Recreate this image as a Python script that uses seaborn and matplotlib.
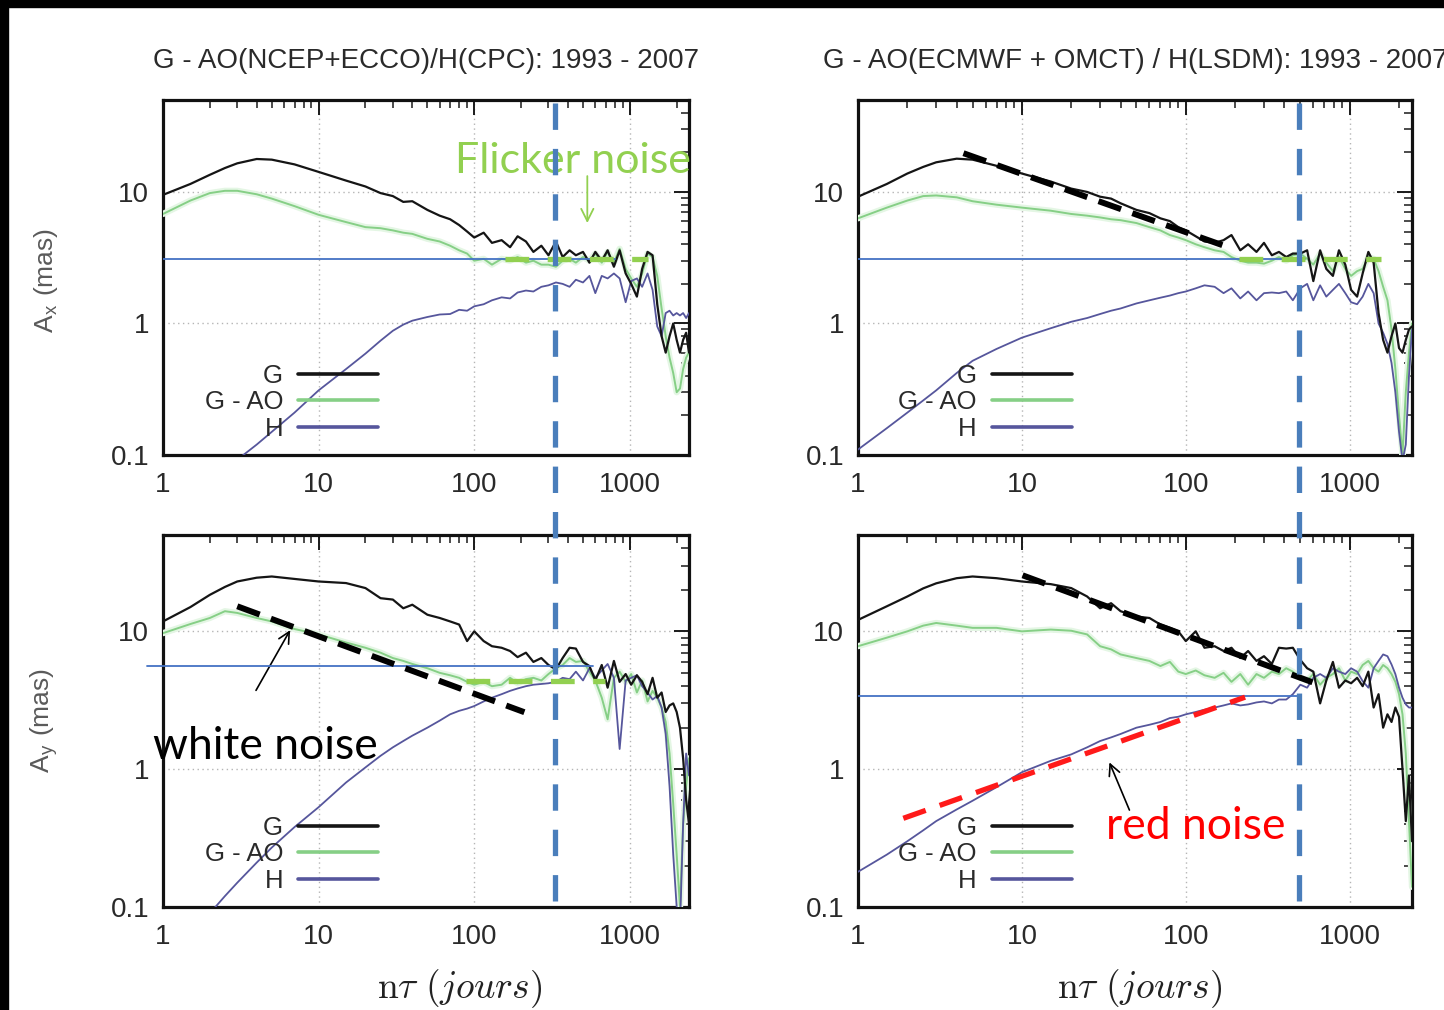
import matplotlib
matplotlib.use("Agg")
import matplotlib.pyplot as plt
import matplotlib.transforms as mtransforms
import matplotlib.patheffects as pe
from matplotlib.lines import Line2D
from matplotlib.patches import Rectangle
from matplotlib.ticker import LogLocator, NullFormatter, FixedLocator, FixedFormatter
import pandas as pd
import seaborn as sns

# ---------------------------------------------------------------- data
n_days = [1, 1.5, 2, 2.5, 3, 4, 5, 7,
          10, 15, 20, 25, 30, 35, 40,
          50, 60, 70, 80, 90,
          100, 115, 130, 150, 170, 190,
          215, 240, 270, 300, 335, 370,
          410, 450, 500, 550, 600, 660,
          720, 790, 860, 940, 1020, 1110,
          1200, 1300, 1400, 1500, 1600, 1700,
          1800, 1900, 2000, 2100, 2200, 2300, 2400]

# x component, NCEP+ECCO / CPC
ax_ncep_g = [9.5, 11.5, 13.5, 15.2, 16.5, 17.8, 17.6, 16.2,
             14.2, 12.2, 11.0, 9.8, 9.3, 8.4, 8.5,
             7.3, 6.6, 6.2, 5.6, 5.0,
             4.5, 4.9, 4.1, 4.3, 3.8, 4.6,
             4.2, 3.5, 3.9, 3.3, 4.2, 3.2,
             3.6, 3.3, 3.5, 2.9, 3.5, 3.0,
             3.6, 2.7, 3.6, 2.4, 2.0, 1.6,
             2.6, 3.5, 3.3, 1.4, 0.8, 0.6,
             0.8, 1.0, 0.75, 0.6, 0.75, 0.85, 0.6]
ax_ncep_gao = [6.8, 8.6, 9.8, 10.2, 10.2, 9.6, 8.9, 7.8,
               6.7, 5.9, 5.4, 5.3, 5.1, 4.9, 4.8,
               4.4, 4.2, 3.9, 3.6, 3.4,
               3.0, 3.1, 2.8, 3.1, 3.0, 3.2,
               2.9, 3.0, 2.8, 2.8, 2.7, 3.0,
               3.1, 2.9, 3.2, 3.0, 3.4, 2.9,
               3.5, 2.9, 3.7, 2.6, 2.2, 1.9,
               2.4, 3.4, 3.2, 2.3, 1.3, 0.8,
               0.55, 0.42, 0.3, 0.32, 0.45, 0.55, 0.6]
ax_ncep_h = [0.035, 0.05, 0.065, 0.08, 0.092, 0.12, 0.15, 0.21,
             0.31, 0.45, 0.59, 0.74, 0.88, 0.98, 1.05,
             1.12, 1.17, 1.18, 1.27, 1.25,
             1.35, 1.4, 1.5, 1.58, 1.55, 1.72,
             1.78, 1.75, 1.9, 1.95, 2.05, 2.0,
             1.9, 2.15, 2.05, 2.3, 1.7, 2.3,
             2.2, 2.4, 2.2, 1.45, 2.1, 2.2,
             1.9, 2.4, 1.8, 0.95, 0.8, 1.2,
             1.25, 1.15, 1.2, 1.15, 1.2, 1.1, 1.2]

# x component, ECMWF+OMCT / LSDM
ax_ecmwf_g = [9.2, 11.5, 13.8, 15.5, 16.8, 17.9, 17.6, 15.8,
              13.8, 12.0, 10.6, 10.0, 9.2, 8.9, 8.2,
              7.3, 6.9, 6.3, 6.0, 5.4,
              5.1, 4.6, 4.2, 4.1, 4.3, 4.7,
              3.6, 4.0, 3.5, 4.1, 3.3, 3.5,
              3.2, 3.4, 3.4, 3.6, 2.1, 3.6,
              2.6, 2.3, 3.6, 2.8, 1.8, 1.6,
              2.4, 3.5, 2.9, 1.2, 0.75, 0.6,
              0.8, 1.0, 0.65, 0.6, 0.75, 0.9, 0.95]
ax_ecmwf_gao = [6.3, 7.6, 8.6, 9.3, 9.4, 9.1, 8.5, 8.0,
                7.6, 7.2, 6.8, 6.6, 6.4, 6.2, 6.1,
                5.8, 5.4, 5.1, 4.7, 4.5,
                4.3, 4.0, 3.8, 3.6, 3.5, 3.2,
                3.0, 2.9, 2.9, 2.85, 3.0, 3.2,
                3.0, 3.3, 3.4, 3.1, 2.8, 3.4,
                2.9, 2.5, 3.2, 2.6, 2.3, 2.5,
                2.6, 3.2, 3.1, 2.5, 1.9, 1.5,
                0.9, 0.45, 0.2, 0.1, 0.3, 0.6, 1.0]
ax_ecmwf_h = [0.11, 0.16, 0.21, 0.26, 0.31, 0.42, 0.52, 0.64,
              0.78, 0.92, 1.03, 1.1, 1.18, 1.25, 1.3,
              1.42, 1.5, 1.57, 1.63, 1.7,
              1.75, 1.85, 1.95, 1.9, 1.7, 1.85,
              1.55, 1.75, 1.5, 1.7, 1.72, 1.7,
              1.75, 1.5, 1.85, 2.0, 1.5, 1.95,
              1.6, 1.8, 2.0, 1.7, 1.45, 1.4,
              1.6, 2.0, 1.7, 1.0, 0.85, 0.7,
              0.5, 0.3, 0.15, 0.09, 0.12, 0.4, 0.9]

# y component, NCEP+ECCO / CPC
ay_ncep_g = [11.8, 15.0, 18.4, 21.0, 23.0, 24.5, 25.0, 24.0,
             23.0, 22.4, 20.6, 17.4, 17.0, 14.7, 15.6,
             13.2, 12.5, 11.8, 11.2, 8.5,
             10.0, 8.5, 7.8, 7.6, 7.2, 6.5,
             7.0, 6.0, 6.4, 5.7, 5.3, 6.4,
             7.6, 7.5, 6.0, 5.6, 4.4, 5.7,
             3.9, 6.1, 4.3, 4.9, 4.1, 4.8,
             4.3, 3.5, 4.6, 3.3, 3.6, 2.6,
             2.9, 3.0, 2.6, 2.0, 1.2, 0.6, 0.4]
ay_ncep_gao = [9.7, 11.3, 12.5, 14.0, 13.6, 12.5, 11.8, 10.4,
               9.5, 8.3, 7.6, 7.0, 6.4, 6.1, 5.8,
               5.4, 5.0, 4.8, 4.6, 4.3,
               4.1, 4.3, 4.0, 4.1, 4.6, 4.2,
               4.5, 4.6, 4.4, 4.9, 5.4, 5.7,
               6.4, 6.0, 6.1, 5.1, 4.4, 3.3,
               2.3, 4.6, 5.1, 4.3, 4.9, 3.6,
               4.4, 3.1, 3.7, 3.3, 2.8, 2.2,
               1.3, 0.56, 0.24, 0.1, 0.4, 0.75, 1.2]
ay_ncep_h = [0.045, 0.068, 0.09, 0.12, 0.15, 0.21, 0.27, 0.38,
             0.53, 0.8, 1.03, 1.25, 1.44, 1.6, 1.75,
             2.0, 2.25, 2.5, 2.65, 2.75,
             2.87, 3.1, 3.3, 3.5, 3.7, 3.85,
             4.0, 4.1, 4.15, 4.2, 4.3, 4.6,
             4.5, 5.1, 4.4, 5.4, 4.6, 5.2,
             5.8, 4.6, 1.4, 4.4, 4.6, 4.8,
             4.0, 3.6, 3.2, 3.4, 2.8, 1.8,
             0.75, 0.24, 0.1, 0.07, 0.4, 1.3, 0.9]

# y component, ECMWF+OMCT / LSDM
ay_ecmwf_g = [12.1, 15.2, 17.9, 20.5, 22.3, 24.3, 25.0, 24.3,
              23.0, 22.0, 20.6, 17.9, 14.7, 16.0, 14.0,
              12.8, 12.5, 11.2, 10.6, 10.0,
              8.5, 10.0, 7.6, 7.8, 7.2, 7.6,
              6.4, 7.2, 6.1, 6.6, 5.8, 7.6,
              7.5, 7.6, 6.2, 5.4, 5.1, 3.0,
              4.4, 6.0, 3.9, 4.4, 4.2, 4.6,
              4.0, 5.1, 2.8, 3.5, 2.0, 2.5,
              2.2, 2.8, 2.4, 1.0, 0.42, 0.9, 0.3]
ay_ecmwf_gao = [7.8, 9.0, 10.0, 11.0, 11.5, 11.0, 10.6, 10.6,
                10.0, 10.3, 10.1, 9.5, 7.8, 7.4, 6.8,
                6.4, 6.1, 5.6, 6.0, 5.1,
                4.9, 5.2, 4.8, 4.6, 5.0, 4.3,
                4.9, 4.1, 4.9, 4.6, 5.1, 4.9,
                5.4, 5.1, 4.6, 4.4, 4.9, 4.1,
                4.6, 4.9, 5.4, 4.4, 5.1, 4.9,
                5.7, 6.1, 5.4, 5.1, 5.7, 5.4,
                4.9, 4.3, 3.5, 2.5, 1.3, 0.42, 0.14]
ay_ecmwf_h = [0.18, 0.24, 0.3, 0.36, 0.42, 0.51, 0.59, 0.74,
              0.95, 1.15, 1.28, 1.44, 1.6, 1.7, 1.8,
              2.0, 2.1, 2.2, 2.35, 2.4,
              2.5, 2.6, 2.7, 2.8, 2.9, 3.0,
              2.9, 2.95, 3.05, 3.1, 3.0, 3.2,
              3.2, 3.5, 4.1, 3.9, 4.6, 4.9,
              4.6, 5.4, 5.1, 4.9, 5.4, 5.1,
              4.35, 3.9, 5.4, 6.1, 6.8, 6.6,
              5.75, 4.9, 3.9, 3.3, 2.95, 2.8, 2.8]

titles = ["G - AO(NCEP+ECCO)/H(CPC): 1993 - 2007",
          "G - AO(ECMWF + OMCT) / H(LSDM): 1993 - 2007"]
series_labels = ["G", "G - AO", "H"]
x_ticks = [1, 10, 100, 1000]
x_tick_labels = ["1", "10", "100", "1000"]
y_ticks = [0.1, 1, 10]
y_tick_labels = ["0.1", "1", "10"]

# noise-model guide lines: (x0, x1), (y0, y1)
white_level_x = {"ncep": 3.1, "ecmwf": 3.1}
white_level_y = {"ncep": 5.57, "ecmwf": 3.38}
cutoff_day = {"ncep": 330, "ecmwf": 490}
flicker_x = {"ncep": ((158, 1314), (3.1, 3.1)), "ecmwf": ((211, 1550), (3.1, 3.1))}
flicker_y = {"ncep": ((88, 696), (4.35, 4.35))}
slope_x_ecmwf = ((4.4, 171), (19.7, 3.9))
slope_y_ncep = ((3.0, 210), (15.2, 2.59))
slope_y_ecmwf = ((10.1, 593), (25.5, 4.27))
red_y_ecmwf = ((1.89, 230), (0.44, 3.33))

# ---------------------------------------------------------------- style
sns.set_style("white")
plt.rcParams["font.family"] = ["Liberation Sans", "DejaVu Sans"]
plt.rcParams["mathtext.fontset"] = "cm"

C_G = "#151515"
C_GAO = "#86cf86"
C_H = "#56569c"
C_BLUE = "#4a7ebb"
C_LINE = "#4472c4"
C_GREEN = "#92d050"
TXT = "#2a2a2a"

W, H = 1444, 1010
fig = plt.figure(figsize=(W / 100, H / 100), dpi=100)


def frac(l, t, r, b):
    return [l / W, 1 - b / H, (r - l) / W, (b - t) / H]


ax_tl = fig.add_axes(frac(163, 100, 689, 455))
ax_tr = fig.add_axes(frac(858, 100, 1412, 455))
ax_bl = fig.add_axes(frac(163, 535, 689, 907))
ax_br = fig.add_axes(frac(858, 535, 1412, 907))


def draw_panel(ax, g, gao, h):
    df = pd.DataFrame({"n": n_days, "G": g, "G - AO": gao, "H": h})
    glow = [pe.Stroke(linewidth=4.5, foreground="#e4f6e4"), pe.Normal()]
    sns.lineplot(data=df, x="n", y="G", color=C_G, lw=1.6, ax=ax,
                 label=series_labels[0], zorder=4)
    sns.lineplot(data=df, x="n", y="G - AO", color=C_GAO, lw=1.4, ax=ax,
                 label=series_labels[1], zorder=3, path_effects=glow)
    sns.lineplot(data=df, x="n", y="H", color=C_H, lw=1.3, ax=ax,
                 label=series_labels[2], zorder=3)
    ax.set_xscale("log")
    ax.set_yscale("log")
    ax.set_xlim(1, 2400)
    ax.set_ylim(0.1, 50)
    ax.xaxis.set_major_locator(FixedLocator(x_ticks))
    ax.xaxis.set_major_formatter(FixedFormatter(x_tick_labels))
    ax.yaxis.set_major_locator(FixedLocator(y_ticks))
    ax.yaxis.set_major_formatter(FixedFormatter(y_tick_labels))
    ax.xaxis.set_minor_locator(LogLocator(base=10, subs=range(2, 10), numticks=20))
    ax.yaxis.set_minor_locator(LogLocator(base=10, subs=range(2, 10), numticks=20))
    ax.xaxis.set_minor_formatter(NullFormatter())
    ax.yaxis.set_minor_formatter(NullFormatter())
    ax.tick_params(which="both", direction="in", top=True, right=True,
                   colors="#1a1a1a", labelcolor=TXT, labelsize=20)
    ax.tick_params(which="major", length=11, width=1.4)
    ax.tick_params(which="minor", length=6, width=1.1)
    ax.tick_params(axis="x", which="both", pad=12)
    ax.tick_params(axis="y", which="both", pad=10)
    ax.grid(True, which="major", color="#b5b5b5", linestyle=(0, (1, 2.5)), lw=1.0)
    for s in ax.spines.values():
        s.set_color("#111111")
        s.set_linewidth(2.3)
    ax.set_xlabel("")
    ax.set_ylabel("")


draw_panel(ax_tl, ax_ncep_g, ax_ncep_gao, ax_ncep_h)
draw_panel(ax_tr, ax_ecmwf_g, ax_ecmwf_gao, ax_ecmwf_h)
draw_panel(ax_bl, ay_ncep_g, ay_ncep_gao, ay_ncep_h)
draw_panel(ax_br, ay_ecmwf_g, ay_ecmwf_gao, ay_ecmwf_h)

ax_tl.set_title(titles[0], fontsize=20, color=TXT, pad=23)
ax_tr.set_title(titles[1], fontsize=20, color=TXT, pad=23)

ax_tl.set_ylabel(r"A$_\mathregular{x}$ (mas)", fontsize=19, color="#5a5a5a")
ax_bl.set_ylabel(r"A$_\mathregular{y}$ (mas)", fontsize=19, color="#5a5a5a")
ax_tl.yaxis.set_label_coords(-0.196, 0.49)
ax_bl.yaxis.set_label_coords(-0.196, 0.50)

xlab = r"$\mathrm{n}\tau\ (jours)$"
ax_bl.set_xlabel(xlab, fontsize=27, color="#222222")
ax_br.set_xlabel(xlab, fontsize=27, color="#222222")
ax_bl.xaxis.set_label_coords(0.563, -0.162)
ax_br.xaxis.set_label_coords(0.509, -0.162)

# legends in gnuplot style: text right-aligned, sample on the right
for ax, fx, fy in [(ax_tl, 0.409, 0.040), (ax_tr, 0.386, 0.040),
                   (ax_bl, 0.409, 0.038), (ax_br, 0.386, 0.038)]:
    leg = ax.legend(loc="lower right", bbox_to_anchor=(fx, fy), frameon=False,
                    markerfirst=False, fontsize=18.5, handlelength=3.1,
                    handletextpad=0.6, labelspacing=0.1, borderpad=0,
                    borderaxespad=0)
    for t in leg.get_texts():
        t.set_color(TXT)
    for ln in leg.get_lines():
        ln.set_linewidth(2.6)
        ln.set_path_effects([])

# horizontal reference levels
ax_tl.plot([1, 807], [white_level_x["ncep"]] * 2, color=C_LINE, lw=1.3, zorder=5)
ax_tr.plot([1, 537], [white_level_x["ecmwf"]] * 2, color=C_LINE, lw=1.3, zorder=5)
ax_bl.plot([0.79, 582], [white_level_y["ncep"]] * 2, color=C_LINE, lw=1.3,
           zorder=5, clip_on=False)
ax_br.plot([1, 493], [white_level_y["ecmwf"]] * 2, color=C_LINE, lw=1.3, zorder=5)


# dashed guide segments
def guide(ax, seg, color, lw, dashes):
    ax.plot(seg[0], seg[1], color=color, lw=lw, dashes=dashes, zorder=6,
            solid_capstyle="butt", dash_capstyle="butt", clip_on=False)


guide(ax_tl, flicker_x["ncep"], C_GREEN, 3.8, (4.5, 3.5))
guide(ax_tr, flicker_x["ecmwf"], C_GREEN, 3.8, (4.5, 3.5))
guide(ax_bl, flicker_y["ncep"], C_GREEN, 3.8, (4.5, 3.5))
guide(ax_tr, slope_x_ecmwf, "black", 4.3, (4.0, 2.0))
guide(ax_bl, slope_y_ncep, "black", 4.3, (4.0, 2.0))
guide(ax_br, slope_y_ecmwf, "black", 4.3, (4.0, 2.0))
guide(ax_br, red_y_ecmwf, "#ff1a1a", 3.8, (4.5, 2.8))

# vertical cut-off lines spanning both rows
for ax_top, key in [(ax_tl, "ncep"), (ax_tr, "ecmwf")]:
    tr = mtransforms.blended_transform_factory(ax_top.transData, fig.transFigure)
    fig.add_artist(Line2D([cutoff_day[key]] * 2, [1 - 103 / H, 1 - 907 / H],
                          transform=tr, color=C_BLUE, lw=3.8,
                          dashes=(5.0, 3.6), zorder=7))

# annotations
ann_font = ["Lato", "DejaVu Sans"]
ax_tl.text(75.5, 17.2, "Flicker noise", color=C_GREEN, fontsize=31,
           family=ann_font, va="center", ha="left", zorder=8)
ax_tl.annotate("", xy=(533, 5.8), xytext=(533, 13.2), annotation_clip=False,
               arrowprops=dict(arrowstyle="->", color=C_GREEN, lw=1.3,
                               shrinkA=0, shrinkB=0, mutation_scale=22))
ax_bl.text(0.862, 1.47, "white noise", color="black", fontsize=32,
           family=ann_font, va="center", ha="left", zorder=8)
ax_bl.annotate("", xy=(6.56, 10.2), xytext=(3.96, 3.73), annotation_clip=False,
               arrowprops=dict(arrowstyle="->", color="black", lw=1.2,
                               shrinkA=0, shrinkB=0, mutation_scale=20))
ax_br.text(32.7, 0.386, "red noise", color="#ff0000", fontsize=32,
           family=ann_font, va="center", ha="left", zorder=8)
ax_br.annotate("", xy=(34.2, 1.12), xytext=(45.3, 0.505), annotation_clip=False,
               arrowprops=dict(arrowstyle="->", color="black", lw=1.2,
                               shrinkA=0, shrinkB=0, mutation_scale=20))

# black frame at top and left edges
fig.add_artist(Rectangle((0, 1 - 7 / H), 1, 7 / H, transform=fig.transFigure,
                         color="black", zorder=20))
fig.add_artist(Rectangle((0, 0), 8 / W, 1, transform=fig.transFigure,
                         color="black", zorder=20))

fig.savefig("out.png", dpi=100, facecolor="white")
